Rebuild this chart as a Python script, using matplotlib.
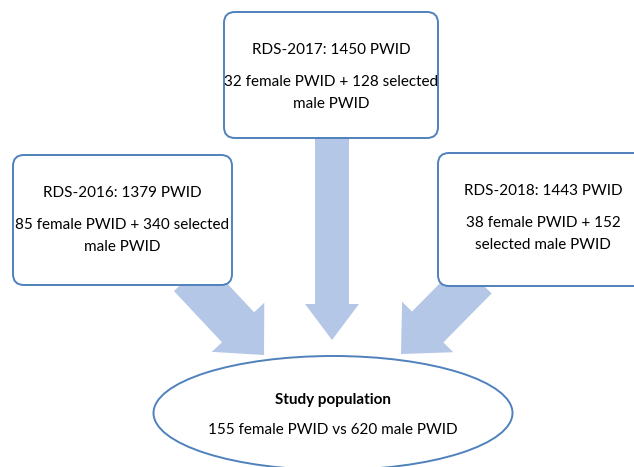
import matplotlib.pyplot as plt
from matplotlib.patches import FancyBboxPatch, Ellipse, FancyArrow

plt.rcParams['font.family'] = ['Lato', 'DejaVu Sans']

# Text of the flowchart
years = ["RDS-2016", "RDS-2017", "RDS-2018"]
totals = [1379, 1450, 1443]
females = [85, 32, 38]
males = [340, 128, 152]
second_lines = [
    ("{f} female PWID + {m} selected", "male PWID"),
    ("{f} female PWID + {m} selected", "male PWID"),
    ("{f} female PWID + {m}", "selected male PWID"),
]
study_title = "Study population"
study_female = 155
study_male = 620

# ---------------------------------------------------------------------
# Layout (pixel coordinates, y pointing down)
# ---------------------------------------------------------------------
W, H = 634, 467
boxes = [(13, 155, 232, 285), (224, 12, 438, 138), (438, 153, 660, 286)]
text_x = [122, 331, 543]
arrows = [((190, 276), (264, 355)), ((332, 130), (332, 340)), ((476, 278), (401, 354))]
arrow_w = [44, 34, 44]
head_w = [72, 54, 72]
head_l = [38, 36, 38]

edge = '#4f81bd'
fill_arrow = '#b4c7e7'
fs = 11

fig = plt.figure(figsize=(W / 100, H / 100), dpi=100)
ax = fig.add_axes([0, 0, 1, 1])
ax.set_xlim(0, W)
ax.set_ylim(H, 0)
ax.axis('off')

# arrows underneath the boxes
for (s, e), w, hw, hl in zip(arrows, arrow_w, head_w, head_l):
    ax.add_patch(FancyArrow(s[0], s[1], e[0] - s[0], e[1] - s[1], width=w,
                            head_width=hw, head_length=hl,
                            length_includes_head=True, color=fill_arrow,
                            lw=0, zorder=1))

for i, (x0, y0, x1, y1) in enumerate(boxes):
    ax.add_patch(FancyBboxPatch((x0, y0), x1 - x0, y1 - y0,
                                boxstyle="round,pad=0,rounding_size=11",
                                fc='white', ec=edge, lw=1.4, zorder=2))
    cx = text_x[i]
    ax.text(cx, y0 + 38, f"{years[i]}: {totals[i]} PWID", ha='center',
            va='center', fontsize=fs, zorder=3)
    l2, l3 = second_lines[i]
    ax.text(cx, y0 + 70, l2.format(f=females[i], m=males[i]),
            ha='center', va='center', fontsize=fs, zorder=3)
    ax.text(cx, y0 + 92, l3, ha='center', va='center', fontsize=fs, zorder=3)

ax.add_patch(Ellipse((333, 413), 359, 114, fc='white', ec=edge, lw=1.4,
                     zorder=2))
ax.text(333, 400, study_title, ha='center', va='center', fontsize=fs,
        fontweight='bold', zorder=3)
ax.text(333, 430, f"{study_female} female PWID vs {study_male} male PWID",
        ha='center', va='center', fontsize=fs, zorder=3)

fig.savefig('out.png', dpi=100)
